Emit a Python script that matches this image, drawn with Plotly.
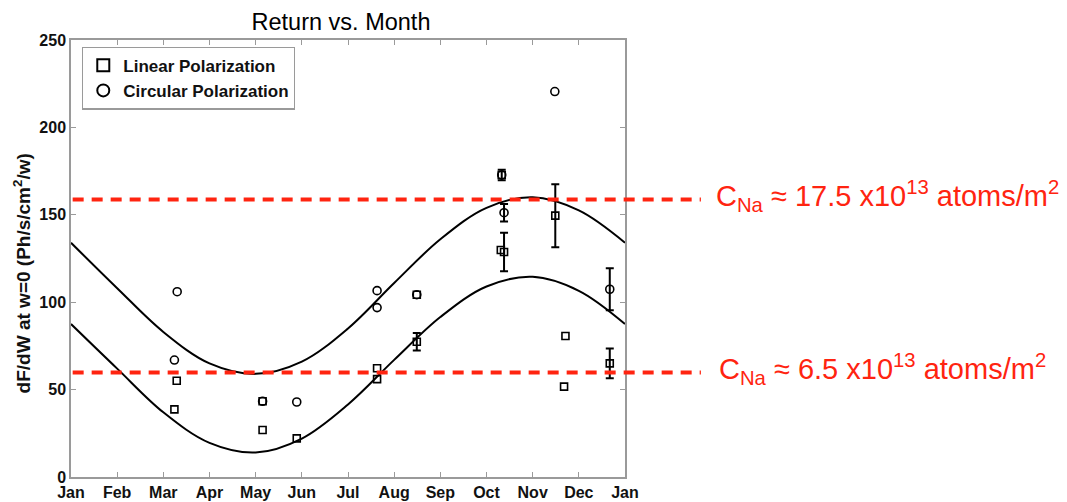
import plotly.graph_objects as go

# Month axis: 0 = start of January, 12 = start of the following January
month_ticks = list(range(13))
month_labels = ["Jan", "Feb", "Mar", "Apr", "May", "Jun", "Jul",
                "Aug", "Sep", "Oct", "Nov", "Dec", "Jan"]

# Linear polarization measurements (no error bar)
lin_month = [2.24, 2.29, 4.15, 4.15, 4.89, 6.63, 6.63, 7.49, 9.33, 9.31, 10.71, 10.68]
lin_value = [38.7, 55.1, 43.3, 26.9, 22.1, 62.2, 56.0, 104.3, 172.8, 129.9, 80.7, 51.7]

# Linear polarization measurements with error bars
lin_err_month = [7.49, 9.38, 10.49, 11.67]
lin_err_value = [77.4, 128.7, 149.5, 65.0]
lin_err_size = [5.0, 11.0, 18.0, 8.5]

# Circular polarization measurements (no error bar)
circ_month = [2.24, 2.30, 4.15, 4.89, 6.63, 6.63, 7.49, 10.48]
circ_value = [66.9, 106.0, 43.3, 42.9, 106.6, 96.9, 104.3, 220.5]

# Circular polarization measurements with error bars
circ_err_month = [9.33, 9.38, 11.67]
circ_err_value = [172.8, 151.2, 107.4]
circ_err_size = [3.0, 5.0, 12.0]

# Seasonal fit curves, sampled at the start of each month
circ_fit = [134.0, 108.0, 83.0, 65.0, 59.0, 66.0, 85.0, 111.0, 136.0, 154.0, 160.0, 152.5, 134.0]
lin_fit = [87.5, 62.0, 37.0, 19.5, 14.0, 22.0, 41.5, 67.0, 91.5, 109.0, 114.5, 106.5, 87.5]

# Sodium column density reference levels
cna_levels = [158.8, 59.8]
cna_labels = [
    "C<sub>Na</sub> ≈ 17.5 x10<sup>13</sup> atoms/m<sup>2</sup>",
    "C<sub>Na</sub> ≈ 6.5 x10<sup>13</sup> atoms/m<sup>2</sup>",
]
cna_label_x = [1.1605, 1.1655]

FONT = "Liberation Sans, Arial, Helvetica, sans-serif"
RED = "#ff2410"
FRAME = "#9a9a9a"

sq_marker = dict(symbol="square-open", size=7, color="black", line=dict(width=1.6, color="black"))
ci_marker = dict(symbol="circle-open", size=8, color="black", line=dict(width=1.6, color="black"))
err_style = dict(type="data", visible=True, color="black", thickness=2, width=4)

fig = go.Figure()

# Fit curves
fig.add_trace(go.Scatter(x=month_ticks, y=circ_fit, mode="lines", line=dict(color="black", width=2, shape="spline"),
                         showlegend=False, hoverinfo="skip"))
fig.add_trace(go.Scatter(x=month_ticks, y=lin_fit, mode="lines", line=dict(color="black", width=2, shape="spline"),
                         showlegend=False, hoverinfo="skip"))

# Measurements
fig.add_trace(go.Scatter(x=lin_month, y=lin_value, mode="markers", marker=sq_marker,
                         name="Linear Polarization"))
fig.add_trace(go.Scatter(x=circ_month, y=circ_value, mode="markers", marker=ci_marker,
                         name="Circular Polarization"))
fig.add_trace(go.Scatter(x=lin_err_month, y=lin_err_value, mode="markers", marker=sq_marker,
                         error_y=dict(array=lin_err_size, **err_style), showlegend=False))
fig.add_trace(go.Scatter(x=circ_err_month, y=circ_err_value, mode="markers", marker=ci_marker,
                         error_y=dict(array=circ_err_size, **err_style), showlegend=False))

# Reference levels: dashed lines that run past the plot, with labels on the right
for level, label, lx in zip(cna_levels, cna_labels, cna_label_x):
    fig.add_shape(type="line", xref="paper", yref="y", x0=0.003, x1=1.137, y0=level, y1=level,
                  line=dict(color=RED, width=4, dash="11px,8px"), layer="above")
    fig.add_annotation(xref="paper", yref="y", x=lx, y=level, text=label, showarrow=False,
                       xanchor="left", yanchor="middle", yshift=3,
                       font=dict(family=FONT, size=29, color=RED))

# Vertical axis title
fig.add_annotation(xref="paper", yref="paper", x=-0.0884, y=0.466, xanchor="center", yanchor="middle",
                   text="dF/dW at w=0 (Ph/s/cm<sup>2</sup>/w)", textangle=-90, showarrow=False,
                   font=dict(family=FONT, size=19, color="#111", weight="bold"))

axis_common = dict(showline=True, linecolor=FRAME, linewidth=1.5, mirror="ticks",
                   ticks="inside", ticklen=5, tickcolor=FRAME, tickwidth=1.2,
                   showgrid=False, zeroline=False,
                   tickfont=dict(family=FONT, size=16, color="#111", weight="bold"))

fig.update_xaxes(range=[0, 12], tickmode="array", tickvals=month_ticks, ticktext=month_labels,
                 **axis_common)
fig.update_yaxes(range=[0, 250], tickmode="linear", tick0=0, dtick=50, **axis_common)

fig.update_layout(
    width=1067, height=502,
    margin=dict(l=71, r=442, t=40, b=25, autoexpand=False),
    paper_bgcolor="white", plot_bgcolor="white",
    font=dict(family=FONT, color="black"),
    title=dict(text="Return vs. Month", x=341 / 1067, xanchor="center", xref="container",
               y=1 - 22 / 502, yanchor="middle", yref="container",
               font=dict(family=FONT, size=23.5, color="black")),
    legend=dict(x=0.02, y=0.985, xanchor="left", yanchor="top", bgcolor="white",
                bordercolor=FRAME, borderwidth=1.2,
                font=dict(family=FONT, size=17, color="#111", weight="bold"),
                itemsizing="constant", tracegroupgap=0, itemwidth=30),
    showlegend=True,
)

fig.write_html("out.html")
